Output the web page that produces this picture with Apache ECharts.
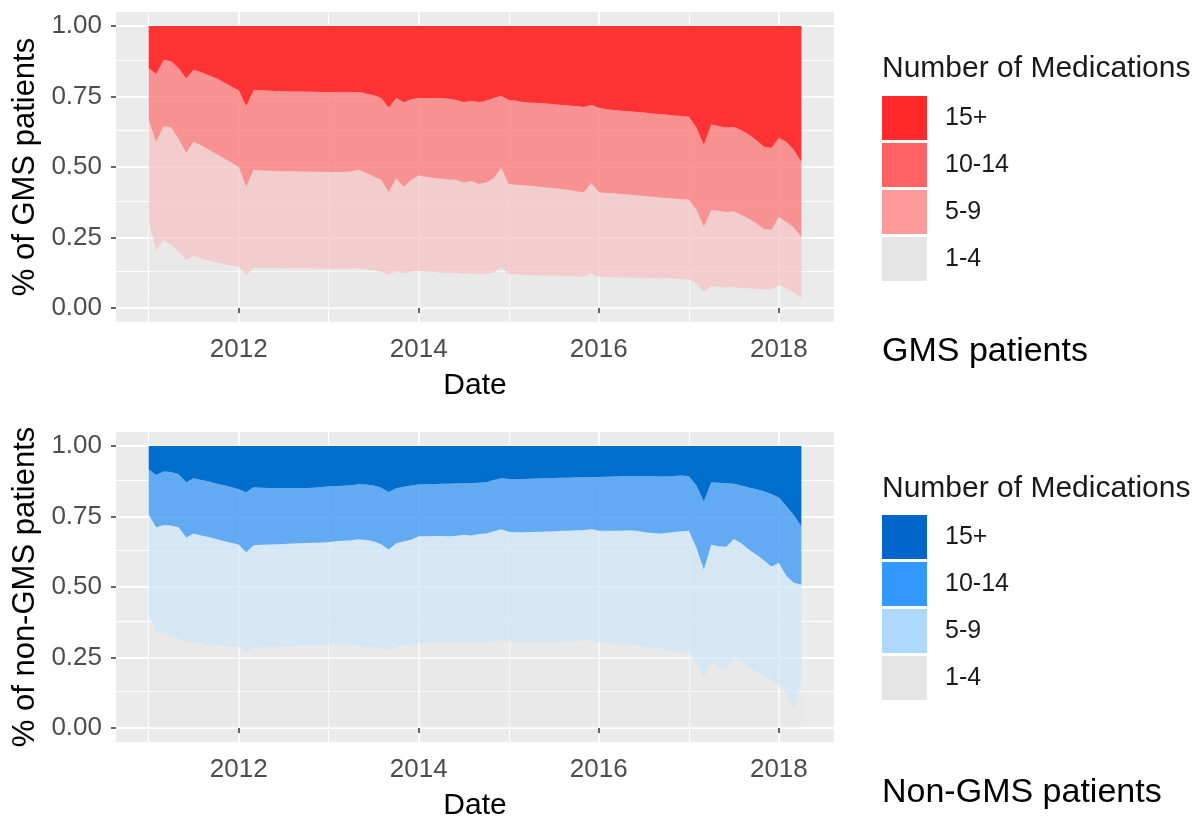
<!DOCTYPE html>
<html><head><meta charset="utf-8">
<script src="https://cdn.jsdelivr.net/npm/echarts@6/dist/echarts.min.js"></script>
<style>html,body{margin:0;padding:0;background:#fff}#c{width:1201px;height:819px}</style>
</head><body><div id="c"></div>
<script>
// ---- data ----
const categories = ['1-4', '5-9', '10-14', '15+'];
const legendOrder = ['15+', '10-14', '5-9', '1-4'];
const startYear = 2011;          // first month: Jan 2011
const nMonths = 88;              // through Apr 2018
const xTicks = [2012, 2014, 2016, 2018];
const yTicks = [0, 0.25, 0.5, 0.75, 1];
const panelTitles = ['GMS patients', 'Non-GMS patients'];
const yTitles = ['% of GMS patients', '% of non-GMS patients'];

// cumulative share of patients with <=4, <=9, <=14 medications (GMS)
const gmsCum4 = [0.31,0.205,0.24,0.225,0.20,0.17,0.185,0.176,0.168,0.161,0.156,0.151,0.146,0.117,0.142,0.142,0.141,0.141,0.141,0.140,0.140,0.140,0.140,0.139,0.139,0.139,0.139,0.140,0.141,0.137,0.134,0.128,0.117,0.130,0.124,0.129,0.131,0.128,0.127,0.126,0.125,0.125,0.121,0.123,0.120,0.121,0.126,0.145,0.120,0.119,0.118,0.117,0.116,0.115,0.115,0.114,0.113,0.112,0.111,0.122,0.111,0.110,0.109,0.108,0.108,0.107,0.107,0.106,0.105,0.105,0.104,0.103,0.101,0.088,0.057,0.078,0.075,0.072,0.074,0.071,0.070,0.068,0.066,0.065,0.080,0.070,0.055,0.035];
const gmsCum9 = [0.667,0.59,0.645,0.64,0.60,0.55,0.59,0.577,0.562,0.547,0.532,0.516,0.50,0.43,0.49,0.488,0.487,0.486,0.485,0.485,0.484,0.484,0.483,0.483,0.482,0.482,0.482,0.485,0.490,0.480,0.466,0.455,0.410,0.460,0.430,0.455,0.470,0.465,0.461,0.458,0.456,0.455,0.445,0.450,0.440,0.445,0.460,0.497,0.440,0.437,0.435,0.433,0.430,0.427,0.425,0.422,0.418,0.414,0.410,0.443,0.410,0.408,0.407,0.404,0.402,0.400,0.397,0.395,0.392,0.390,0.388,0.386,0.385,0.350,0.288,0.347,0.345,0.340,0.343,0.330,0.316,0.300,0.280,0.277,0.323,0.305,0.285,0.252];
const gmsCum14 = [0.85,0.83,0.88,0.875,0.85,0.815,0.845,0.836,0.826,0.815,0.801,0.786,0.772,0.716,0.773,0.772,0.771,0.770,0.769,0.768,0.768,0.767,0.767,0.766,0.766,0.765,0.765,0.765,0.766,0.760,0.755,0.745,0.710,0.745,0.730,0.740,0.745,0.745,0.745,0.744,0.742,0.738,0.730,0.735,0.730,0.735,0.745,0.752,0.738,0.735,0.730,0.728,0.727,0.725,0.723,0.720,0.718,0.716,0.713,0.720,0.710,0.705,0.702,0.700,0.698,0.695,0.693,0.690,0.688,0.685,0.683,0.681,0.678,0.640,0.578,0.652,0.645,0.640,0.642,0.630,0.615,0.595,0.572,0.567,0.603,0.590,0.560,0.518];

// cumulative share (non-GMS)
const ngCum4 = [0.409,0.342,0.338,0.330,0.318,0.306,0.303,0.300,0.296,0.293,0.291,0.289,0.288,0.270,0.285,0.287,0.288,0.288,0.289,0.290,0.291,0.292,0.293,0.294,0.295,0.296,0.297,0.298,0.290,0.288,0.285,0.284,0.277,0.288,0.290,0.295,0.300,0.301,0.302,0.302,0.302,0.303,0.300,0.302,0.303,0.305,0.308,0.313,0.306,0.305,0.305,0.306,0.306,0.306,0.305,0.306,0.308,0.309,0.310,0.313,0.305,0.302,0.300,0.298,0.295,0.292,0.288,0.285,0.282,0.278,0.274,0.270,0.267,0.230,0.178,0.235,0.215,0.210,0.249,0.235,0.215,0.200,0.185,0.171,0.150,0.120,0.065,0.170];
const ngCum9 = [0.758,0.712,0.720,0.718,0.712,0.676,0.690,0.683,0.677,0.670,0.663,0.657,0.651,0.623,0.648,0.650,0.651,0.652,0.653,0.654,0.655,0.656,0.657,0.658,0.660,0.662,0.664,0.666,0.669,0.667,0.662,0.652,0.633,0.655,0.662,0.668,0.680,0.680,0.681,0.681,0.680,0.682,0.685,0.683,0.688,0.690,0.698,0.705,0.696,0.694,0.694,0.695,0.696,0.697,0.698,0.700,0.700,0.701,0.702,0.706,0.700,0.700,0.700,0.700,0.701,0.700,0.695,0.692,0.690,0.692,0.695,0.698,0.700,0.640,0.562,0.650,0.645,0.643,0.670,0.655,0.633,0.615,0.595,0.573,0.585,0.540,0.515,0.509];
const ngCum14 = [0.918,0.897,0.910,0.908,0.900,0.872,0.886,0.880,0.874,0.867,0.861,0.855,0.847,0.836,0.854,0.852,0.851,0.851,0.851,0.851,0.851,0.851,0.852,0.855,0.857,0.858,0.859,0.861,0.865,0.864,0.860,0.852,0.837,0.850,0.856,0.860,0.864,0.865,0.865,0.866,0.866,0.867,0.868,0.868,0.870,0.872,0.880,0.886,0.883,0.883,0.883,0.884,0.885,0.886,0.887,0.888,0.888,0.889,0.889,0.890,0.890,0.891,0.892,0.893,0.893,0.893,0.893,0.893,0.892,0.892,0.894,0.896,0.893,0.860,0.804,0.872,0.870,0.868,0.866,0.860,0.853,0.847,0.840,0.830,0.818,0.787,0.755,0.716];

// ---- styles ----
const FONT = 'Liberation Sans, Arial, sans-serif';
const plotColors = [
  {'1-4':'rgba(229,229,229,0.3)','5-9':'rgba(245,191,192,0.72)','10-14':'rgba(250,124,124,0.82)','15+':'rgb(255,51,51)'},
  {'1-4':'rgba(229,229,229,0.3)','5-9':'rgba(204,228,246,0.72)','10-14':'rgba(79,161,241,0.88)','15+':'rgb(0,110,204)'}
];
const legendColors = [
  {'15+':'#FF2A2A','10-14':'#FF6262','5-9':'#FF9A9A','1-4':'#E5E5E5'},
  {'15+':'#0066CC','10-14':'#3399FF','5-9':'#ADD9FF','1-4':'#E5E5E5'}
];
const gridTops = [12, 432];
const legendTops = [96, 515];
const legendTitleY = [68, 488];
const captionY = [352, 793];

// ---- build ----
const xs = [];
for (let i = 0; i < nMonths; i++) xs.push(startYear + i / 12);
const xPad = 0.05 * (xs[xs.length - 1] - xs[0]);
function shares(c4, c9, c14) {
  return {
    '1-4': c4,
    '5-9': c9.map((v, i) => v - c4[i]),
    '10-14': c14.map((v, i) => v - c9[i]),
    '15+': c14.map(v => 1 - v)
  };
}
const panels = [shares(gmsCum4, gmsCum9, gmsCum14), shares(ngCum4, ngCum9, ngCum14)];

const grids = [], xAxes = [], yAxes = [], series = [], legends = [], graphics = [];
panels.forEach((sh, k) => {
  grids.push({left: 116, top: gridTops[k], width: 718, height: 310, show: true,
    backgroundColor: '#EBEBEB', borderWidth: 0, outerBoundsMode: 'none', containLabel: false});
  xAxes.push({type: 'value', gridIndex: k, min: xs[0] - xPad, max: xs[xs.length - 1] + xPad,
    axisLine: {show: false}, splitLine: {show: false},
    axisTick: {show: true, customValues: xTicks, length: 5, lineStyle: {color: '#333', width: 1.5}},
    axisLabel: {customValues: xTicks, formatter: v => String(v), fontSize: 26, color: '#4D4D4D', fontFamily: FONT, margin: 15},
    name: 'Date', nameLocation: 'middle', nameGap: 49,
    nameTextStyle: {fontSize: 30, color: '#000', fontFamily: FONT}});
  yAxes.push({type: 'value', gridIndex: k, min: -0.05, max: 1.05,
    axisLine: {show: false}, splitLine: {show: false},
    axisTick: {show: true, customValues: yTicks, length: 5, lineStyle: {color: '#333', width: 1.5}},
    axisLabel: {customValues: yTicks, formatter: v => v.toFixed(2), fontSize: 26, color: '#4D4D4D', fontFamily: FONT, margin: 14},
    name: yTitles[k], nameLocation: 'middle', nameGap: 73, nameRotate: 90,
    nameTextStyle: {fontSize: 31, color: '#000', fontFamily: FONT}});
  // panel grid lines (drawn under the areas)
  const gl = [];
  for (let y = 2011; y <= 2018; y++) gl.push({xAxis: y, lineStyle: {color: '#fff', width: y % 2 === 0 ? 2 : 1, type: 'solid'}});
  [0, 0.125, 0.25, 0.375, 0.5, 0.625, 0.75, 0.875, 1].forEach((v, j) =>
    gl.push({yAxis: v, lineStyle: {color: '#fff', width: j % 2 === 0 ? 2 : 1, type: 'solid'}}));
  series.push({type: 'line', name: '_grid' + k, xAxisIndex: k, yAxisIndex: k, data: [], z: 0, silent: true,
    markLine: {z: 0, silent: true, symbol: ['none', 'none'], label: {show: false}, animation: false, data: gl}});
  categories.forEach(cat => {
    // value first so the stack is computed on the y dimension
    series.push({type: 'line', name: cat, xAxisIndex: k, yAxisIndex: k, stack: 'p' + k, z: 3,
      data: xs.map((x, i) => [sh[cat][i], x]),
      encode: {x: 1, y: 0},
      symbol: 'none', showSymbol: false, lineStyle: {width: 0},
      itemStyle: {color: legendColors[k][cat]},
      areaStyle: {color: plotColors[k][cat], opacity: 1}});
  });
  legends.push({orient: 'vertical', left: 882, top: legendTops[k], padding: 0, itemWidth: 45, itemHeight: 44, itemGap: 3,
    selectedMode: false, icon: 'rect',
    textStyle: {fontSize: 25, color: '#1A1A1A', fontFamily: FONT, padding: [0, 0, 0, 13]},
    data: legendOrder.map(n => ({name: n, icon: 'rect', itemStyle: {color: legendColors[k][n], borderWidth: 0}}))});
  graphics.push({type: 'text', left: 882, top: legendTitleY[k] - 14,
    style: {text: 'Number of Medications', fontSize: 30, fill: '#1A1A1A', fontFamily: FONT}});
  graphics.push({type: 'text', left: 882, top: captionY[k] - 17,
    style: {text: panelTitles[k], fontSize: 34, fill: '#000', fontFamily: FONT}});
});

const chart = echarts.init(document.getElementById('c'), null, {renderer: 'canvas'});
chart.setOption({
  animation: false,
  backgroundColor: '#fff',
  grid: grids, xAxis: xAxes, yAxis: yAxes, series: series, legend: legends, graphic: graphics
});
</script></body></html>
